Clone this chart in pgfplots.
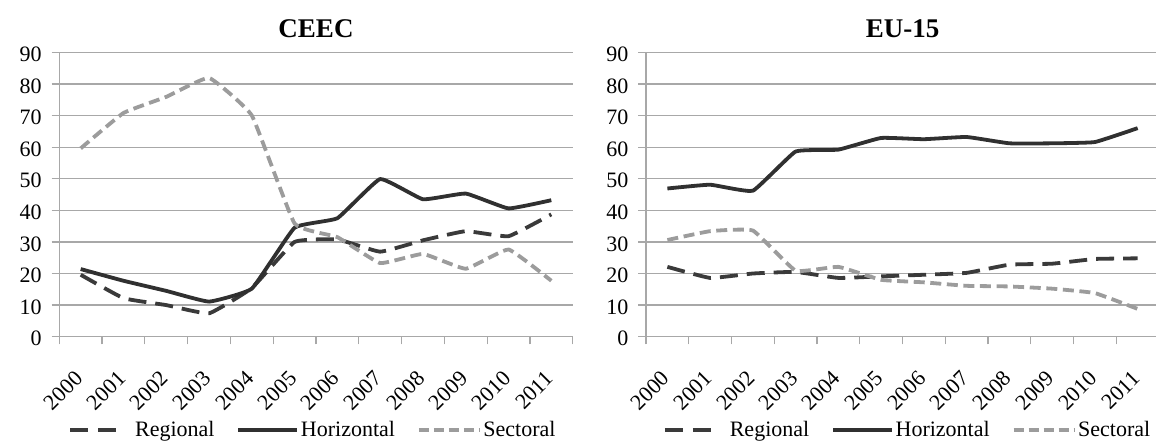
\documentclass[border=0pt]{standalone}
\usepackage{fontspec}
\setmainfont{Liberation Serif}
\usepackage{pgfplots}
\pgfplotsset{compat=1.18}
\definecolor{reg}{HTML}{3A3A3A}
\definecolor{hor}{HTML}{303030}
\definecolor{sec}{HTML}{9C9C9C}
\definecolor{gridc}{HTML}{A8A8A8}
\pgfplotsset{
  panel/.style={
    scale only axis, height=142.2pt,
    xmin=-0.5, xmax=11.5, ymin=0, ymax=90,
    ytick={0,10,...,90},
    xtick={0,...,11},
    xticklabels={2000,2001,2002,2003,2004,2005,2006,2007,2008,2009,2010,2011},
    minor xtick={-0.5,0.5,...,11.5},
    major x tick style={draw=none},
    minor x tick style={draw=gridc, line width=0.6pt},
    major y tick style={draw=gridc, line width=0.6pt},
    tick align=outside, major tick length=3.8pt, minor tick length=3.8pt,
    ymajorgrids, grid style={draw=gridc, line width=0.6pt},
    axis x line*=bottom, axis y line*=left,
    axis line style={draw=gridc, line width=0.6pt},
    /pgf/number format/assume math mode=true,
    tick label style={font=\fontsize{11}{13}\selectfont},
    yticklabel style={xshift=-1.5pt, yshift=-1pt},
    xticklabel style={xshift=-3.5pt, yshift=-12.5pt, rotate=45, anchor=north east, inner sep=0pt},
    title style={font=\bfseries\fontsize{13.5}{15}\selectfont, yshift=-2.5pt},
    legend style={anchor=center, legend columns=3, draw=none,
      font=\fontsize{11}{13}\selectfont, inner sep=0pt, nodes={inner sep=0pt},
      /tikz/every odd column/.append style={column sep=0pt},
      /tikz/every even column/.append style={column sep=11pt}},
    every axis plot/.append style={line width=1.9pt, line join=round, smooth, tension=0.2},
  },
  regs/.style={color=reg, dash pattern=on 9pt off 4.5pt,
    legend image code/.code={\draw[##1, dash pattern=on 9pt off 5pt] (0pt,0pt) -- (23.5pt,0pt);}},
  hors/.style={color=hor, solid,
    legend image code/.code={\draw[##1] (0pt,0pt) -- (29.5pt,0pt);}},
  secs/.style={color=sec, dash pattern=on 5.5pt off 2.8pt,
    legend image code/.code={\draw[##1, dash pattern=on 5pt off 2.5pt] (0pt,0pt) -- (30.5pt,0pt);}},
}
\begin{document}
\begin{tikzpicture}
\useasboundingbox (0,0) rectangle (578pt,221.5pt);
\begin{axis}[panel, width=256.7pt, at={(29.65pt,53.15pt)}, anchor=south west, title={CEEC},
  legend style={at={(0.492,-0.328)}}]
\addplot[regs] coordinates {(0,19.6) (1,12.2) (2,10) (3,7.4) (4,15.4) (5,30) (6,30.8) (7,26.9) (8,30.5) (9,33.4) (10,31.8) (11,38.7)};
\addplot[hors] coordinates {(0,21.4) (1,17.7) (2,14.5) (3,11.1) (4,15.2) (5,34.5) (6,37.5) (7,49.9) (8,43.5) (9,45.3) (10,40.6) (11,43.2)};
\addplot[secs] coordinates {(0,59.6) (1,70.8) (2,75.9) (3,81.9) (4,70) (5,35.8) (6,31.5) (7,23.3) (8,26.2) (9,21.5) (10,27.6) (11,17.7)};
\legend{\hspace*{8pt}Regional,\hspace*{0.8pt}Horizontal,\hspace*{0.8pt}Sectoral}
\end{axis}
\begin{axis}[panel, width=256.5pt, at={(323pt,53.15pt)}, anchor=south west, title={EU-15},
  legend style={at={(0.508,-0.328)}}]
\addplot[regs] coordinates {(0,22.1) (1,18.6) (2,20) (3,20.5) (4,18.6) (5,19.1) (6,19.6) (7,20.2) (8,22.8) (9,23.1) (10,24.6) (11,24.8)};
\addplot[hors] coordinates {(0,46.9) (1,48.1) (2,46.2) (3,58.6) (4,59.2) (5,62.9) (6,62.5) (7,63.2) (8,61.2) (9,61.2) (10,61.6) (11,66)};
\addplot[secs] coordinates {(0,30.6) (1,33.4) (2,33.6) (3,20.9) (4,22.1) (5,18) (6,17.2) (7,16.1) (8,15.9) (9,15.2) (10,13.8) (11,8.8)};
\legend{\hspace*{8pt}Regional,\hspace*{0.8pt}Horizontal,\hspace*{0.8pt}Sectoral}
\end{axis}
\end{tikzpicture}
\end{document}
